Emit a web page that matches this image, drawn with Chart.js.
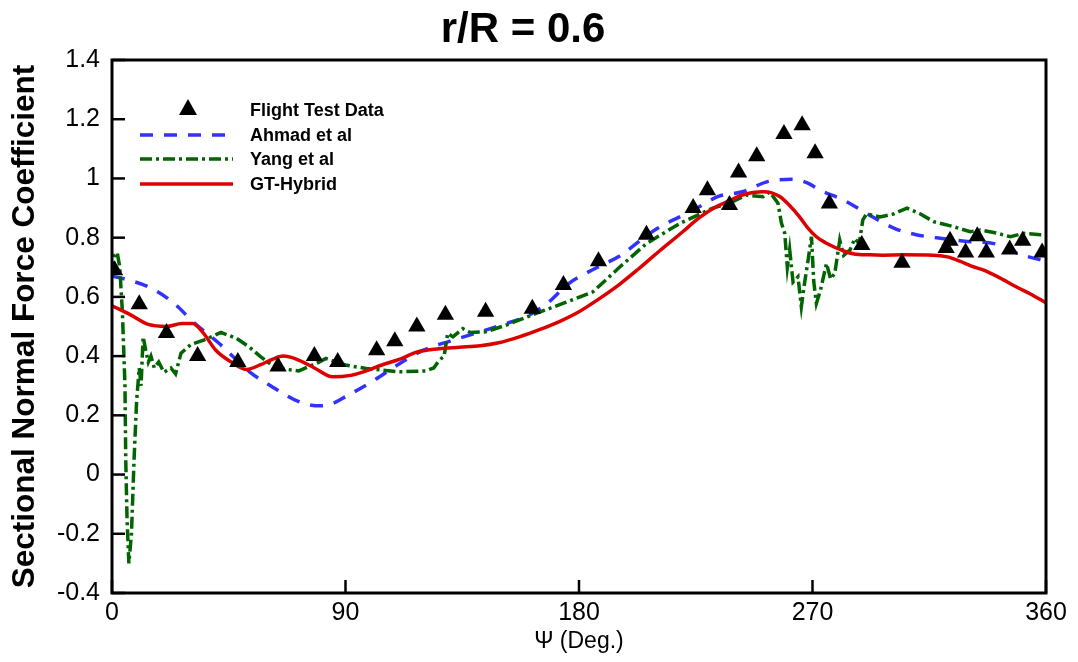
<!DOCTYPE html>
<html>
<head>
<meta charset="utf-8">
<script src="https://cdn.jsdelivr.net/npm/chart.js@4.4.1/dist/chart.umd.min.js"></script>
<style>
  body { margin: 0; background: #fff; }
  #wrap { width: 1078px; height: 662px; position: relative; }
</style>
</head>
<body>
<div id="wrap"><canvas id="cnChart"></canvas></div>
<script>
// flight test data (triangles)
const flightPsi = [1, 10.5, 21, 33, 48.5, 64, 78, 87, 102, 109, 117.5, 128.5, 144, 162, 174, 187.5,
  206, 224, 229.5, 238, 241.5, 248.5, 259, 266, 271, 276.5, 289, 304.5, 321.5, 323, 329, 333.5, 337, 346, 351, 358.5];
const flightCn = [0.69, 0.575, 0.478, 0.40, 0.38, 0.365, 0.40, 0.38, 0.42, 0.45, 0.50, 0.54, 0.55, 0.56, 0.64, 0.72,
  0.81, 0.90, 0.96, 0.91, 1.02, 1.075, 1.15, 1.18, 1.085, 0.915, 0.775, 0.715, 0.765, 0.79, 0.75, 0.805, 0.75, 0.76, 0.79, 0.75];

// Ahmad et al
const ahmadPsi = [0, 5, 14, 23, 32, 41, 47, 53, 62, 72, 80, 85, 90, 100, 110, 120, 130, 142, 150, 160, 168, 176, 186, 196,
  205, 210, 224, 234, 243, 253, 262, 268, 273, 282, 292, 302, 310, 320, 331, 340, 349, 360];
const ahmadCn = [0.67, 0.66, 0.634, 0.585, 0.51, 0.445, 0.395, 0.347, 0.295, 0.246, 0.232, 0.24, 0.263, 0.313, 0.37, 0.42, 0.45, 0.482, 0.505, 0.535, 0.58, 0.645, 0.695, 0.74,
  0.80, 0.83, 0.893, 0.94, 0.955, 0.99, 0.997, 0.985, 0.96, 0.927, 0.876, 0.83, 0.81, 0.797, 0.786, 0.78, 0.747, 0.72];

// Yang et al
const yangPsi = [0, 1, 2, 3, 4, 5, 5.3, 5.8, 6.5, 7.5, 8.5, 9.5, 10.5, 11.2, 12, 13, 14, 15, 16.3, 18, 20, 22.7, 24.5, 26.6, 30.5, 35.6, 42, 48, 53, 57, 63, 72,
  78.7, 82.5, 90, 98, 110.8, 121, 124, 126, 128, 129.4, 131.4, 135.2, 138, 144, 152, 163.5, 173.8, 185.4, 195.6, 206, 218.8, 231.6,
  238, 244.5, 250.9, 253.5, 256.7, 258, 259.3, 260.3, 261.2, 262.5, 264.4, 265.7, 267, 268.3, 269.6, 270.5, 271.5, 273, 275.4, 277, 278.6,
  280.5, 282, 284.4, 286.3, 288, 289.4, 290.8, 296, 301.2, 306.4, 311.6, 316.7, 324.4, 330.8, 334.7, 341.1, 346.3, 351.4, 357.8, 360];
const yangCn = [0.68, 0.74, 0.75, 0.70, 0.55, 0.30, 0.05, -0.15, -0.30, -0.20, 0.05, 0.25, 0.36, 0.30, 0.465, 0.42, 0.38, 0.40, 0.36, 0.38, 0.345, 0.36, 0.34, 0.41, 0.44, 0.455, 0.48, 0.46, 0.43, 0.40, 0.36, 0.35,
  0.375, 0.392, 0.37, 0.358, 0.347, 0.35, 0.36, 0.385, 0.40, 0.477, 0.465, 0.493, 0.48, 0.482, 0.505, 0.544, 0.578, 0.617, 0.70, 0.78, 0.848, 0.90,
  0.916, 0.944, 0.938, 0.955, 0.916, 0.85, 0.815, 0.70, 0.76, 0.65, 0.668, 0.567, 0.65, 0.724, 0.803, 0.65, 0.578, 0.62, 0.713, 0.66, 0.68,
  0.792, 0.74, 0.758, 0.797, 0.78, 0.86, 0.88, 0.87, 0.88, 0.90, 0.88, 0.854, 0.837, 0.82, 0.826, 0.815, 0.803, 0.815, 0.81, 0.81];

// GT-Hybrid
const gtPsi = [0, 7, 14, 21, 27, 31, 35, 40, 46, 52, 57, 62, 66, 71, 78, 85, 92, 98, 104, 111, 118, 126, 134, 142, 149, 157, 165, 172, 180,
  188, 196, 203, 207, 211, 220, 226, 233, 238, 243, 251, 254, 257.5, 261, 265, 268, 271.5, 275, 278, 282, 286, 292, 297, 305, 316.5,
  322, 327, 331, 336, 342, 348.5, 354, 360];
const gtCn = [0.57, 0.54, 0.507, 0.50, 0.51, 0.51, 0.48, 0.42, 0.38, 0.355, 0.37, 0.39, 0.40, 0.39, 0.36, 0.33, 0.335, 0.35, 0.37, 0.39, 0.415, 0.425, 0.43, 0.435, 0.445, 0.465, 0.49, 0.515, 0.55,
  0.595, 0.645, 0.695, 0.725, 0.755, 0.82, 0.865, 0.905, 0.925, 0.944, 0.955, 0.952, 0.938, 0.91, 0.87, 0.835, 0.803, 0.783, 0.77, 0.755, 0.745, 0.742, 0.741, 0.742, 0.741,
  0.735, 0.72, 0.705, 0.69, 0.665, 0.634, 0.61, 0.58];

const xTicks = [0, 90, 180, 270, 360];
const seriesNames = ["Flight Test Data", "Ahmad et al", "Yang et al", "GT-Hybrid"];

const FONT = "'Liberation Sans', Arial, Helvetica, sans-serif";
const BLUE = "rgb(50,50,255)";
const GREEN = "rgb(0,100,0)";
const RED = "rgb(220,0,0)";

function pairs(xs, ys) {
  return xs.map((x, i) => ({ x: x, y: ys[i] }));
}

// frame, inward ticks and the legend box
const framePlugin = {
  id: "frame",
  afterDraw(chart) {
    const ctx = chart.ctx;
    const a = chart.chartArea;
    const xs = chart.scales.x, ys = chart.scales.y;
    ctx.save();
    ctx.strokeStyle = "#000";
    ctx.lineWidth = 3;
    ctx.strokeRect(a.left, a.top, a.right - a.left, a.bottom - a.top);
    ctx.lineWidth = 2.5;
    ys.ticks.forEach(t => {
      const py = ys.getPixelForValue(t.value);
      ctx.beginPath(); ctx.moveTo(a.left, py); ctx.lineTo(a.left + 13, py); ctx.stroke();
    });
    xTicks.forEach(v => {
      const px = xs.getPixelForValue(v);
      ctx.beginPath(); ctx.moveTo(px, a.bottom); ctx.lineTo(px, a.bottom - 13); ctx.stroke();
    });

    // legend
    const rows = [110, 135, 159, 184];
    const x0 = 140, x1 = 233, tx = 250;
    ctx.font = "bold 18px " + FONT;
    ctx.textBaseline = "middle";
    ctx.textAlign = "left";
    ctx.fillStyle = "#000";
    seriesNames.forEach((name, i) => {
      const y = rows[i];
      const ds = chart.data.datasets[i];
      if (i === 0) {
        ctx.beginPath();
        ctx.moveTo(188, y - 11);
        ctx.lineTo(197, y + 5);
        ctx.lineTo(179, y + 5);
        ctx.closePath();
        ctx.fill();
      } else {
        ctx.save();
        ctx.strokeStyle = ds.borderColor;
        ctx.lineWidth = ds.borderWidth;
        ctx.setLineDash(ds.borderDash || []);
        ctx.beginPath(); ctx.moveTo(x0, y); ctx.lineTo(x1, y); ctx.stroke();
        ctx.restore();
      }
      ctx.fillText(name, tx, y + 1);
    });
    ctx.restore();
  }
};

new Chart(document.getElementById("cnChart"), {
  type: "line",
  data: {
    datasets: [
      {
        label: seriesNames[0],
        data: pairs(flightPsi, flightCn),
        showLine: false,
        pointStyle: "triangle",
        pointRadius: 10,
        pointBackgroundColor: "#000",
        pointBorderWidth: 0,
        borderColor: "#000",
        order: 0
      },
      {
        label: seriesNames[1],
        data: pairs(ahmadPsi, ahmadCn),
        borderColor: BLUE,
        borderWidth: 3.5,
        borderDash: [13, 11],
        pointRadius: 0,
        tension: 0.4,
        cubicInterpolationMode: "monotone",
        order: 3
      },
      {
        label: seriesNames[2],
        data: pairs(yangPsi, yangCn),
        borderColor: GREEN,
        borderWidth: 3.5,
        borderDash: [12, 4, 3, 4],
        pointRadius: 0,
        tension: 0,
        order: 2
      },
      {
        label: seriesNames[3],
        data: pairs(gtPsi, gtCn),
        borderColor: RED,
        borderWidth: 3.5,
        pointRadius: 0,
        tension: 0.4,
        cubicInterpolationMode: "monotone",
        order: 1
      }
    ]
  },
  options: {
    responsive: true,
    maintainAspectRatio: false,
    animation: false,
    layout: { padding: { left: 0, right: 32, top: 0, bottom: 0 } },
    plugins: {
      legend: { display: false },
      tooltip: { enabled: false },
      title: {
        display: true,
        text: "r/R = 0.6",
        color: "#000",
        font: { family: FONT, size: 42, weight: "bold", lineHeight: 1.2 },
        padding: { top: 5, bottom: 4.6 }
      }
    },
    scales: {
      x: {
        type: "linear",
        min: 0,
        max: 360,
        afterBuildTicks: s => { s.ticks = xTicks.map(v => ({ value: v })); },
        afterFit: s => { s.height = 69; },
        grid: { display: false, drawTicks: false },
        border: { display: false },
        ticks: {
          color: "#000",
          padding: 5,
          maxRotation: 0,
          autoSkip: false,
          font: { family: FONT, size: 25 }
        },
        title: {
          display: true,
          text: "Ψ (Deg.)",
          color: "#000",
          font: { family: FONT, size: 23, lineHeight: 1.2 },
          padding: { top: 0, bottom: 7 }
        }
      },
      y: {
        min: -0.4,
        max: 1.4,
        afterFit: s => { s.width = 112; },
        grid: { display: false, drawTicks: false },
        border: { display: false },
        ticks: {
          stepSize: 0.2,
          color: "#000",
          padding: 12,
          font: { family: FONT, size: 25 },
          callback: v => String(Number(v.toFixed(1)))
        },
        title: {
          display: true,
          text: "Sectional Normal Force Coefficient",
          color: "#000",
          font: { family: FONT, size: 31.5, weight: "bold", lineHeight: 1.2 },
          padding: { top: 6, bottom: 0 }
        }
      }
    }
  },
  plugins: [framePlugin]
});
</script>
</body>
</html>
